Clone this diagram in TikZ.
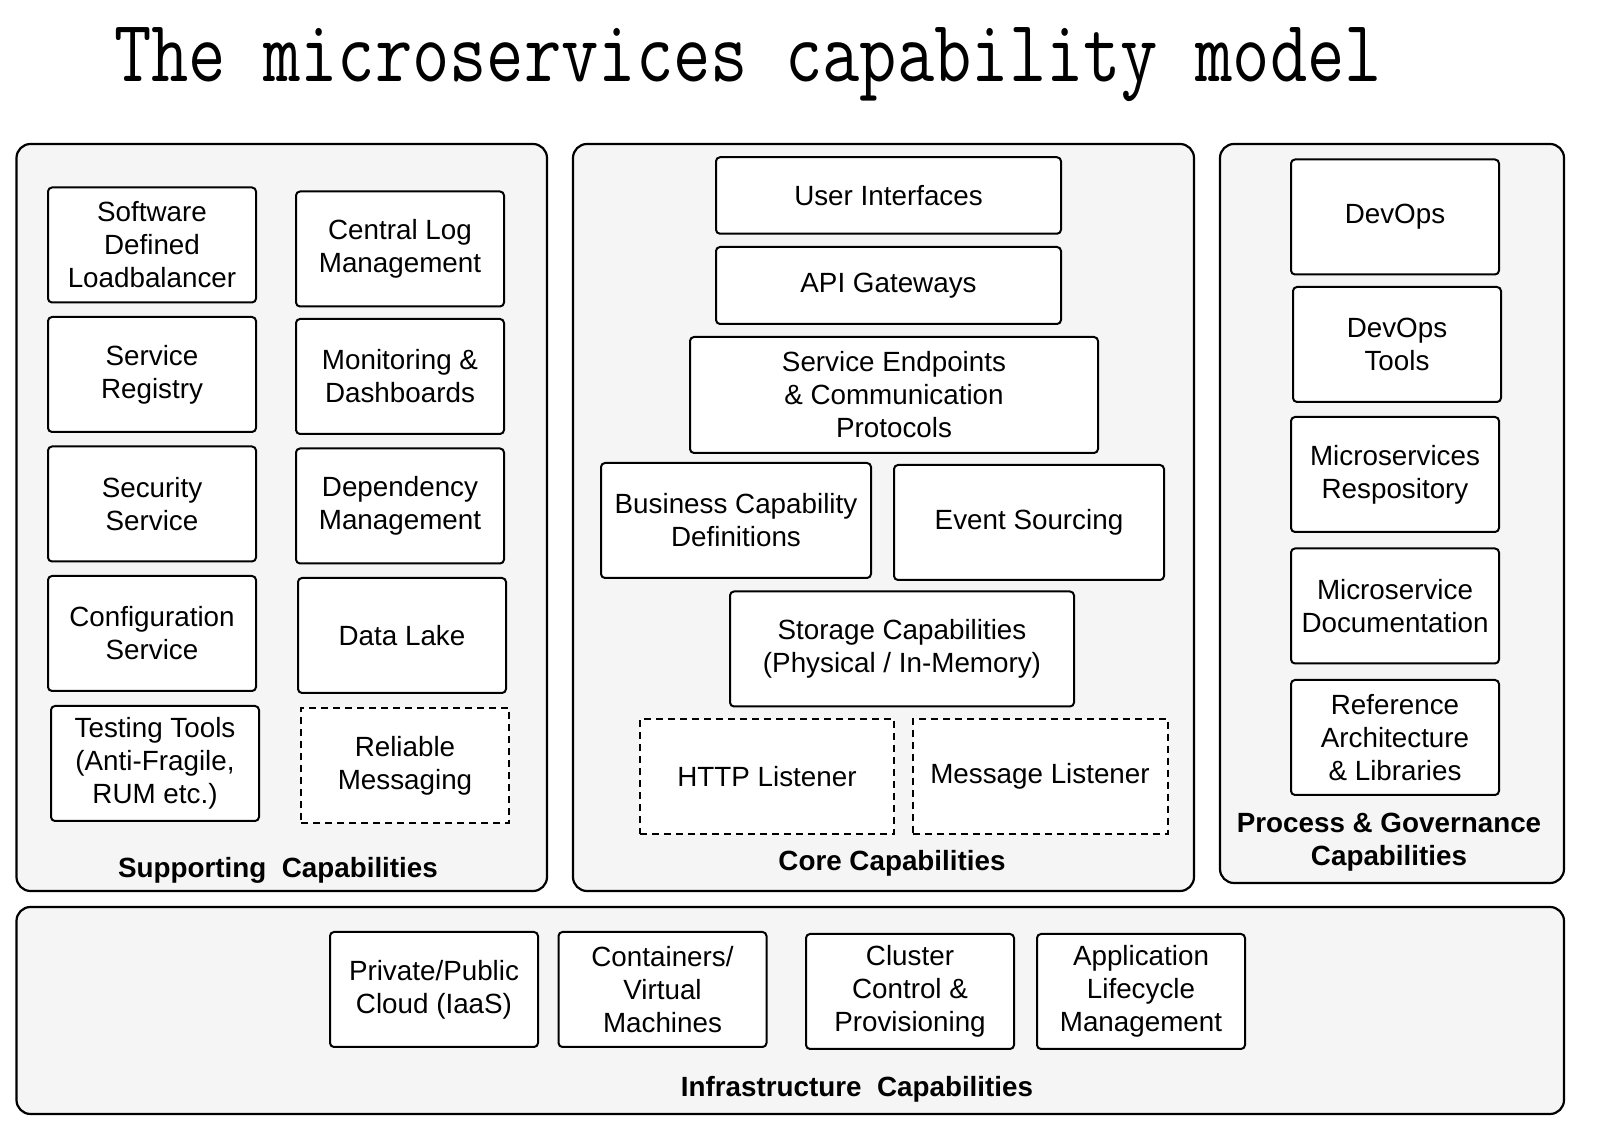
\documentclass[tikz,border=0pt]{standalone}
\usepackage{fontspec}
\usepackage{graphicx}
\setmainfont{Liberation Sans}
\usetikzlibrary{positioning}

\definecolor{panelgray}{HTML}{F5F5F5}

\tikzset{
  panel/.style={draw, line width=1.1pt, rounded corners=7pt, fill=panelgray},
  capbox/.style={draw, line width=1pt, rounded corners=2pt, fill=white, align=center,
    inner sep=0pt, minimum width=104pt, minimum height=57.5pt,
    font=\fontsize{13.9pt}{16.5pt}\selectfont},
  optbox/.style={capbox, rounded corners=0pt, dash pattern=on 3.5pt off 2.5pt},
  paneltitle/.style={align=center, font=\fontsize{13.9pt}{16.5pt}\selectfont\bfseries},
}

\begin{document}
\begin{tikzpicture}[x=0.5pt,y=-0.5pt]
  \useasboundingbox (0,0) rectangle (1613,1143);

  % title
  \node[anchor=base, inner sep=0pt, font=\fontsize{36.2pt}{40pt}\selectfont\ttfamily] (title) at (748,82)
    {\scalebox{1}[1.22]{The microservices capability model}};

  % panels
  \draw[panel] (16.5,144) rectangle (547,891);
  \draw[panel] (573,144) rectangle (1194,891);
  \draw[panel] (1220,144) rectangle (1564,883);
  \draw[panel] (16.5,907) rectangle (1564,1114);

  % supporting capabilities
  \node[capbox] (sdl) at (152,245) {Software\\Defined\\Loadbalancer};
  \node[capbox] (clm) at (400,249) {Central Log\\Management};
  \node[capbox] (sreg) at (152,374.5) {Service\\Registry};
  \node[capbox] (mon) at (400,376.5) {Monitoring \&\\Dashboards};
  \node[capbox] (sec) at (152,504) {Security\\Service};
  \node[capbox] (dep) at (400,506) {Dependency\\Management};
  \node[capbox] (conf) at (152,633.5) {Configuration\\Service};
  \node[capbox] (lake) at (402,635.5) {Data Lake};
  \node[capbox] (test) at (155,763.5) {Testing Tools\\(Anti-Fragile,\\RUM etc.)};
  \node[optbox] (rmsg) at (405,765.5) {Reliable\\Messaging};
  \node[paneltitle] (supp) at (278,870) {Supporting\ \ Capabilities};

  % core capabilities
  \node[capbox, minimum width=172.5pt, minimum height=38.25pt] (ui) at (888.5,195.5) {User Interfaces};
  \node[capbox, minimum width=172.5pt, minimum height=38.5pt] (api) at (888.5,285.5) {API Gateways};
  \node[capbox, minimum width=204pt, minimum height=58pt] (sep) at (894,395)
    {Service Endpoints\\\& Communication\\Protocols};
  \node[capbox, minimum width=135pt] (bcd) at (736,520.5) {Business Capability\\Definitions};
  \node[capbox, minimum width=135pt] (evs) at (1029,522.5) {Event Sourcing};
  \node[capbox, minimum width=172pt] (sto) at (902,649) {Storage Capabilities\\(Physical / In-Memory)};
  \node[optbox, minimum width=127pt] (http) at (767,776.5) {HTTP Listener};
  \node[optbox, minimum width=127.5pt] (mlis) at (1040,776.5) {Message Listener};
  \node[paneltitle] (core) at (892,863) {Core Capabilities};

  % process & governance capabilities
  \node[capbox] (devops) at (1395,217) {DevOps};
  \node[capbox] (dtools) at (1397,344.5) {DevOps\\Tools};
  \node[capbox] (mrepo) at (1395,474.5) {Microservices\\Respository};
  \node[capbox] (mdoc) at (1395,606) {Microservice\\Documentation};
  \node[capbox] (refarch) at (1395,737.5) {Reference\\Architecture\\\& Libraries};
  \node[paneltitle] (proc) at (1389,842.5) {Process \& Governance\\Capabilities};

  % infrastructure capabilities
  \node[capbox] (cloud) at (434,989.5) {Private/Public\\Cloud (IaaS)};
  \node[capbox] (cont) at (662.5,989.5) {Containers/\\Virtual\\Machines};
  \node[capbox] (clus) at (910,991.5) {Cluster\\Control \&\\Provisioning};
  \node[capbox] (alm) at (1141,991.5) {Application\\Lifecycle\\Management};
  \node[paneltitle] (infra) at (857,1089) {Infrastructure\ \ Capabilities};

\end{tikzpicture}
\end{document}
